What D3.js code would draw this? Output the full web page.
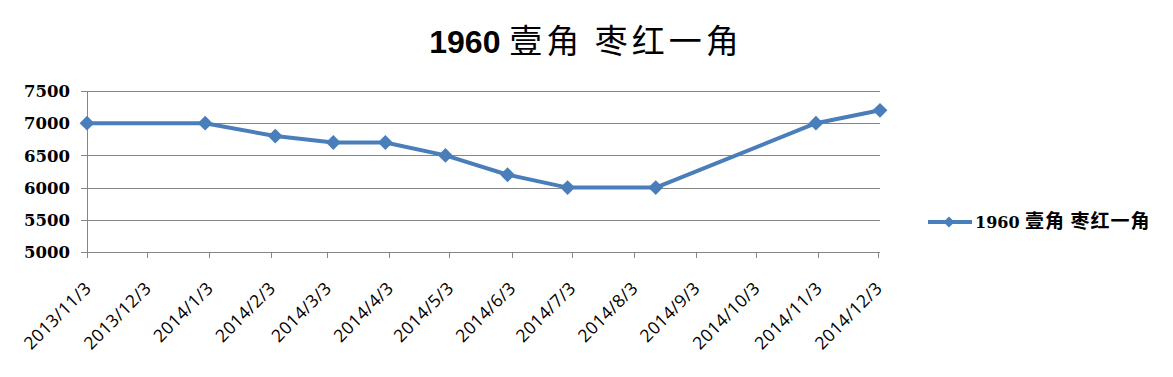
<!DOCTYPE html>
<html>
<head>
  <meta charset="utf-8">
  <title>1960 壹角 枣红一角</title>
  <style>
    body { margin: 0; background: #fff; }
    svg { display: block; }
    .grid line { stroke: #868686; stroke-width: 1px; }
  </style>
  <script src="https://cdn.jsdelivr.net/npm/d3@7/dist/d3.min.js"></script>
</head>
<body>
  <script>
    // 数据
    var seriesName = '1960 壹角 枣红一角';
    var dates = ['2013/11/3', '2014/1/1', '2014/2/5', '2014/3/6', '2014/4/1', '2014/5/1',
                 '2014/6/1', '2014/7/1', '2014/8/14', '2014/11/2', '2014/12/4'];
    var prices = [7000, 7000, 6800, 6700, 6700, 6500, 6200, 6000, 6000, 7000, 7200];
    var yTicks = [5000, 5500, 6000, 6500, 7000, 7500];
    var xTickLabels = ['2013/11/3', '2013/12/3', '2014/1/3', '2014/2/3', '2014/3/3', '2014/4/3', '2014/5/3',
                       '2014/6/3', '2014/7/3', '2014/8/3', '2014/9/3', '2014/10/3', '2014/11/3', '2014/12/3'];

    var parse = d3.timeParse('%Y/%-m/%-d');
    var data = dates.map((d, i) => ({ date: parse(d), value: prices[i] }));

    var W = 1173, H = 377;
    var plotL = 87, plotR = 880, plotT = 91, plotB = 252;
    var blue = '#4a7ebb';

    var x = d3.scaleTime()
      .domain([parse('2013/11/3'), parse('2014/12/4')])
      .range([plotL, plotR]);
    var y = d3.scaleLinear()
      .domain([5000, 7500])
      .range([plotB, plotT]);

    var svg = d3.select('body').append('svg')
      .attr('width', W).attr('height', H);

    // 标题
    var title = svg.append('text')
      .attr('x', 586).attr('y', 53)
      .attr('text-anchor', 'middle');
    title.append('tspan')
      .style('font-family', '"Liberation Sans", Arial, sans-serif')
      .style('font-weight', 'bold')
      .style('font-size', '32px')
      .text(seriesName.split(' ')[0] + ' ');
    title.append('tspan')
      .style('font-family', '"Noto Sans CJK SC", sans-serif')
      .style('font-weight', 'normal')
      .style('font-size', '33px')
      .style('letter-spacing', '4px')
      .text(seriesName.split(' ').slice(1).join(' '));

    // 网格线
    svg.append('g').attr('class', 'grid')
      .selectAll('line')
      .data(yTicks)
      .enter().append('line')
      .attr('x1', plotL - 6).attr('x2', plotR)
      .attr('y1', d => Math.round(y(d)) + 0.5)
      .attr('y2', d => Math.round(y(d)) + 0.5);

    // Y 轴
    svg.append('line')
      .attr('x1', plotL + 0.5).attr('x2', plotL + 0.5)
      .attr('y1', plotT).attr('y2', plotB + 0.5)
      .attr('stroke', '#868686');

    svg.append('g')
      .selectAll('text')
      .data(yTicks)
      .enter().append('text')
      .attr('x', 70)
      .attr('y', d => y(d))
      .attr('dy', '0.37em')
      .attr('text-anchor', 'end')
      .style('font-family', '"DejaVu Serif", serif')
      .style('font-weight', 'bold')
      .style('font-size', '16.5px')
      .text(d => d);

    // X 轴
    var xTicks = xTickLabels.map(parse);
    svg.append('g')
      .selectAll('line')
      .data(xTicks)
      .enter().append('line')
      .attr('x1', d => Math.round(x(d)) + 0.5)
      .attr('x2', d => Math.round(x(d)) + 0.5)
      .attr('y1', plotB).attr('y2', plotB + 6)
      .attr('stroke', '#868686');

    svg.append('g')
      .selectAll('text')
      .data(xTicks)
      .enter().append('text')
      .attr('transform', d => `translate(${x(d) + 1},${plotB + 33}) rotate(-45)`)
      .attr('text-anchor', 'end')
      .attr('dy', '0.35em')
      .style('font-family', '"Open Sans", sans-serif')
      .style('font-size', '17.5px')
      .style('letter-spacing', '0.4px')
      .text((d, i) => xTickLabels[i]);

    // 折线
    var line = d3.line()
      .x(d => x(d.date))
      .y(d => y(d.value));

    svg.append('path')
      .datum(data)
      .attr('d', line)
      .attr('fill', 'none')
      .attr('stroke', blue)
      .attr('stroke-width', 4)
      .attr('stroke-linejoin', 'round');

    var diamond = d3.symbol().type(d3.symbolSquare).size(110);
    svg.append('g')
      .selectAll('path')
      .data(data)
      .enter().append('path')
      .attr('d', diamond)
      .attr('transform', d => `translate(${x(d.date)},${y(d.value)}) rotate(45)`)
      .attr('fill', blue);

    // 图例
    var legend = svg.append('g').attr('transform', 'translate(928,222)');
    legend.append('line')
      .attr('x1', 0).attr('x2', 44)
      .attr('stroke', blue).attr('stroke-width', 4);
    legend.append('path')
      .attr('d', d3.symbol().type(d3.symbolSquare).size(60))
      .attr('transform', 'translate(21,0) rotate(45)')
      .attr('fill', blue);
    var lt = legend.append('text')
      .attr('x', 47).attr('y', 0).attr('dy', '0.36em')
      .style('font-weight', 'bold');
    lt.append('tspan')
      .style('font-family', '"DejaVu Serif", serif')
      .style('font-size', '16px')
      .text(seriesName.split(' ')[0] + ' ');
    lt.append('tspan')
      .style('font-family', '"Noto Sans CJK SC", sans-serif')
      .style('font-size', '19px')
      .style('letter-spacing', '1px')
      .text(seriesName.split(' ').slice(1).join(' '));
  </script>
</body>
</html>
